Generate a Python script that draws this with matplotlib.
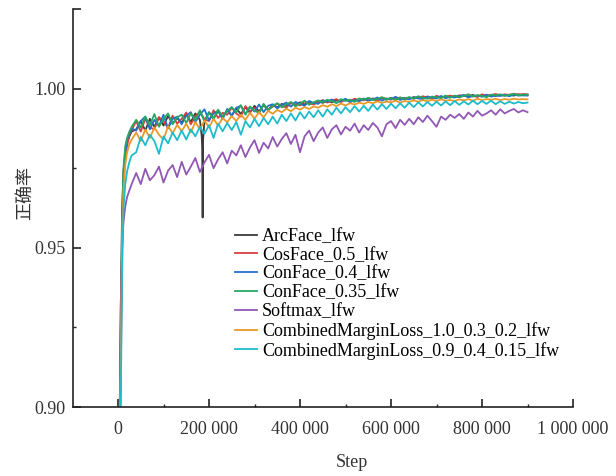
# LFW accuracy curves for the different loss functions
import numpy as np
import matplotlib
matplotlib.use('Agg')
import matplotlib.pyplot as plt

plt.rcParams['font.family'] = ['Liberation Serif', 'Noto Sans CJK SC']

# evaluation steps
early_steps = [3000, 6000, 9000, 12000, 16000, 20000, 25000, 30000]
main_steps = list(range(40000, 900001, 10000))
steps = early_steps + main_steps

arcface = [0.890, 0.930, 0.962, 0.974, 0.980, 0.983, 0.985, 0.9865,
           0.9872, 0.9898, 0.9868, 0.9905, 0.9880, 0.9910, 0.9884, 0.9914, 0.9890, 0.9908,
           0.9892, 0.9920, 0.9895, 0.9922, 0.9902, 0.9898, 0.9926, 0.9906, 0.9930, 0.9910,
           0.9932, 0.9915, 0.9938, 0.9920, 0.9942, 0.9924, 0.9946, 0.9928, 0.9948, 0.9932,
           0.9949, 0.9941, 0.9952, 0.9945, 0.9955, 0.9948, 0.9957, 0.9950, 0.9959, 0.9953,
           0.9961, 0.9955, 0.9963, 0.9957, 0.9964, 0.9959, 0.9966, 0.9960, 0.9967, 0.9962,
           0.9968, 0.9962, 0.9969, 0.9964, 0.9970, 0.9965, 0.9971, 0.9966, 0.9972, 0.9967,
           0.9972, 0.9968, 0.9974, 0.9969, 0.9975, 0.9970, 0.9976, 0.9971, 0.9976, 0.9972,
           0.9977, 0.9973, 0.9978, 0.9974, 0.9980, 0.9975, 0.9979, 0.9976, 0.9980, 0.9977,
           0.9980, 0.9978, 0.9981, 0.9978, 0.9982, 0.9979, 0.9980]
# the single bad evaluation of ArcFace near 186k
arc_dip_steps = [184000, 185000, 186000, 187000]
arc_dip_vals = [0.9850, 0.9815, 0.9595, 0.9840]

cosface = [0.888, 0.905, 0.955, 0.972, 0.979, 0.982, 0.9855, 0.987,
           0.9898, 0.9865, 0.9905, 0.9878, 0.9872, 0.9910, 0.9898, 0.9876, 0.9915, 0.9890,
           0.9905, 0.9925, 0.9888, 0.9912, 0.9928, 0.9904, 0.9898, 0.9932, 0.9908, 0.9924,
           0.9918, 0.9940, 0.9922, 0.9912, 0.9945, 0.9928, 0.9940, 0.9922, 0.9950, 0.9934,
           0.9943, 0.9953, 0.9946, 0.9940, 0.9956, 0.9951, 0.9947, 0.9960, 0.9954, 0.9950,
           0.9958, 0.9964, 0.9956, 0.9962, 0.9967, 0.9958, 0.9965, 0.9961, 0.9968, 0.9964,
           0.9963, 0.9970, 0.9967, 0.9961, 0.9972, 0.9968, 0.9965, 0.9973, 0.9969, 0.9971,
           0.9967, 0.9974, 0.9970, 0.9976, 0.9971, 0.9968, 0.9977, 0.9973, 0.9975, 0.9978,
           0.9974, 0.9979, 0.9976, 0.9981, 0.9977, 0.9974, 0.9982, 0.9978, 0.9980, 0.9983,
           0.9979, 0.9982, 0.9980, 0.9984, 0.9981, 0.9983, 0.9982]

conface_04 = [0.890, 0.920, 0.950, 0.970, 0.980, 0.984, 0.986, 0.9875,
              0.9868, 0.9898, 0.9912, 0.9872, 0.9902, 0.9882, 0.9918, 0.9875, 0.9905, 0.9912,
              0.9888, 0.9915, 0.9926, 0.9895, 0.9918, 0.9935, 0.9900, 0.9922, 0.9930, 0.9904,
              0.9936, 0.9915, 0.9940, 0.9946, 0.9920, 0.9942, 0.9928, 0.9950, 0.9926, 0.9946,
              0.9951, 0.9938, 0.9949, 0.9956, 0.9943, 0.9958, 0.9952, 0.9946, 0.9961, 0.9955,
              0.9952, 0.9963, 0.9959, 0.9966, 0.9955, 0.9962, 0.9968, 0.9957, 0.9964, 0.9960,
              0.9969, 0.9963, 0.9966, 0.9972, 0.9962, 0.9969, 0.9967, 0.9974, 0.9964, 0.9970,
              0.9966, 0.9973, 0.9969, 0.9967, 0.9975, 0.9972, 0.9969, 0.9977, 0.9970, 0.9974,
              0.9972, 0.9977, 0.9980, 0.9973, 0.9976, 0.9979, 0.9974, 0.9981, 0.9975, 0.9978,
              0.9977, 0.9980, 0.9976, 0.9981, 0.9978, 0.9979, 0.9978]

conface_035 = [0.892, 0.922, 0.958, 0.975, 0.982, 0.9845, 0.9865, 0.988,
               0.9902, 0.9878, 0.9912, 0.9885, 0.9920, 0.9880, 0.9905, 0.9922, 0.9888, 0.9910,
               0.9918, 0.9892, 0.9922, 0.9900, 0.9932, 0.9896, 0.9924, 0.9905, 0.9934, 0.9912,
               0.9930, 0.9942, 0.9925, 0.9948, 0.9918, 0.9944, 0.9930, 0.9924, 0.9952, 0.9932,
               0.9946, 0.9954, 0.9941, 0.9950, 0.9958, 0.9944, 0.9953, 0.9962, 0.9949, 0.9957,
               0.9963, 0.9957, 0.9965, 0.9960, 0.9955, 0.9967, 0.9961, 0.9965, 0.9958, 0.9969,
               0.9965, 0.9971, 0.9964, 0.9968, 0.9973, 0.9966, 0.9970, 0.9964, 0.9972, 0.9968,
               0.9973, 0.9969, 0.9976, 0.9971, 0.9968, 0.9975, 0.9973, 0.9970, 0.9978, 0.9972,
               0.9978, 0.9974, 0.9977, 0.9982, 0.9975, 0.9979, 0.9977, 0.9973, 0.9981, 0.9979,
               0.9982, 0.9978, 0.9980, 0.9983, 0.9979, 0.9981, 0.9981]

softmax = [0.885, 0.932, 0.950, 0.958, 0.963, 0.966, 0.968, 0.970,
           0.9735, 0.9700, 0.9748, 0.9712, 0.9728, 0.9755, 0.9705, 0.9742, 0.9760, 0.9722,
           0.9770, 0.9730, 0.9755, 0.9782, 0.9738, 0.9768, 0.9792, 0.9750, 0.9778, 0.9800,
           0.9765, 0.9805, 0.9790, 0.9822, 0.9785, 0.9815, 0.9838, 0.9798, 0.9830, 0.9812,
           0.9848, 0.9818, 0.9842, 0.9860, 0.9826, 0.9855, 0.9800, 0.9850, 0.9868, 0.9835,
           0.9862, 0.9878, 0.9845, 0.9872, 0.9885, 0.9856, 0.9880, 0.9868, 0.9890, 0.9862,
           0.9885, 0.9870, 0.9892, 0.9878, 0.9850, 0.9888, 0.9898, 0.9876, 0.9902, 0.9886,
           0.9905, 0.9888, 0.9910, 0.9895, 0.9915, 0.9898, 0.9880, 0.9912, 0.9902, 0.9918,
           0.9908, 0.9920, 0.9905, 0.9925, 0.9912, 0.9930, 0.9915, 0.9922, 0.9932, 0.9918,
           0.9935, 0.9922, 0.9930, 0.9936, 0.9925, 0.9932, 0.9926]

cml_1 = [0.889, 0.911, 0.952, 0.968, 0.976, 0.980, 0.9825, 0.984,
         0.9862, 0.9835, 0.9872, 0.9845, 0.9878, 0.9855, 0.9840, 0.9882, 0.9860, 0.9886,
         0.9866, 0.9890, 0.9862, 0.9895, 0.9872, 0.9900, 0.9878, 0.9905, 0.9884, 0.9908,
         0.9894, 0.9914, 0.9898, 0.9918, 0.9902, 0.9924, 0.9906, 0.9926, 0.9910, 0.9930,
         0.9921, 0.9933, 0.9926, 0.9937, 0.9929, 0.9940, 0.9934, 0.9942, 0.9936, 0.9944,
         0.9940, 0.9948, 0.9943, 0.9951, 0.9945, 0.9953, 0.9947, 0.9954, 0.9950, 0.9956,
         0.9952, 0.9958, 0.9954, 0.9960, 0.9955, 0.9959, 0.9957, 0.9962, 0.9956, 0.9961,
         0.9958, 0.9963, 0.9959, 0.9964, 0.9960, 0.9965, 0.9961, 0.9966, 0.9962, 0.9964,
         0.9961, 0.9966, 0.9963, 0.9967, 0.9962, 0.9968, 0.9964, 0.9967, 0.9965, 0.9968,
         0.9964, 0.9967, 0.9965, 0.9968, 0.9966, 0.9967, 0.9966]

cml_2 = [0.880, 0.900, 0.942, 0.962, 0.970, 0.974, 0.977, 0.979,
         0.9800, 0.9848, 0.9822, 0.9855, 0.9835, 0.9795, 0.9850, 0.9828, 0.9862, 0.9838,
         0.9868, 0.9840, 0.9872, 0.9850, 0.9880, 0.9858, 0.9885, 0.9845, 0.9890, 0.9866,
         0.9892, 0.9870, 0.9895, 0.9855, 0.9898, 0.9878, 0.9905, 0.9882, 0.9908, 0.9888,
         0.9912, 0.9890, 0.9918, 0.9898, 0.9922, 0.9900, 0.9926, 0.9906, 0.9928, 0.9910,
         0.9932, 0.9912, 0.9935, 0.9918, 0.9940, 0.9922, 0.9942, 0.9926, 0.9945, 0.9928,
         0.9946, 0.9930, 0.9950, 0.9934, 0.9951, 0.9936, 0.9953, 0.9938, 0.9954, 0.9940,
         0.9956, 0.9942, 0.9957, 0.9944, 0.9958, 0.9946, 0.9959, 0.9947, 0.9960, 0.9948,
         0.9961, 0.9949, 0.9960, 0.9950, 0.9962, 0.9951, 0.9961, 0.9952, 0.9962, 0.9951,
         0.9960, 0.9952, 0.9959, 0.9953, 0.9958, 0.9954, 0.9956]

labels = ['ArcFace_lfw', 'CosFace_0.5_lfw', 'ConFace_0.4_lfw', 'ConFace_0.35_lfw',
          'Softmax_lfw', 'CombinedMarginLoss_1.0_0.3_0.2_lfw',
          'CombinedMarginLoss_0.9_0.4_0.15_lfw']
colors = ['#3a3a3a', '#d8403f', '#2470cc', '#25a862', '#9157b5', '#e89a28', '#1dbccb']

xticks = [0, 200000, 400000, 600000, 800000, 1000000]
xticklabels = ['0', '200 000', '400 000', '600 000', '800 000', '1 000 000']

# merge the dip into the ArcFace curve
arc_x = np.array(steps + arc_dip_steps)
arc_y = np.array(arcface + arc_dip_vals)
order = np.argsort(arc_x)
arc_x, arc_y = arc_x[order], arc_y[order]

series = [(arc_x, arc_y), (steps, cosface), (steps, conface_04), (steps, conface_035),
          (steps, softmax), (steps, cml_1), (steps, cml_2)]

fig = plt.figure(figsize=(6.16, 4.76), dpi=100)
ax = fig.add_axes([72.5 / 616, 1 - 407 / 476, 500.5 / 616, 398 / 476])

for (x, y), lab, c in zip(series, labels, colors):
    ax.plot(x, y, color=c, lw=1.3, label=lab)

ax.set_xlim(-100000, 1000000)
ax.set_ylim(0.90, 1.025)
ax.set_xticks(xticks)
ax.set_xticklabels(xticklabels)
ax.set_xticks([100000, 300000, 500000, 700000, 900000], minor=True)
ax.set_yticks([0.90, 0.95, 1.00, 1.025])
ax.set_yticklabels(['0.90', '0.95', '1.00', ''])
ax.set_yticks([0.925, 0.975], minor=True)

for s in ['top', 'right']:
    ax.spines[s].set_visible(False)
for s in ['left', 'bottom']:
    ax.spines[s].set_linewidth(1.2)
    ax.spines[s].set_color('#222222')

ax.tick_params(which='major', direction='in', length=6, width=1.2, color='#222222',
               labelsize=13, labelcolor='#333333')
ax.tick_params(which='minor', direction='in', length=2.5, width=1.0, color='#222222')
ax.tick_params(axis='x', which='major', pad=10)
ax.tick_params(axis='y', which='major', pad=5)

ax.set_xlabel('Step', fontsize=13, color='#333333')
ax.xaxis.set_label_coords(0.558, -0.118)
ax.set_ylabel('正确率', fontsize=13, color='#333333')
ax.yaxis.set_label_coords(-0.078, 0.538)

ax.legend(loc='upper left', bbox_to_anchor=(235 / 616, 1 - 228 / 476),
          bbox_transform=fig.transFigure, frameon=False, fontsize=13,
          handlelength=1.2, handletextpad=0.3, labelspacing=0.1,
          borderpad=0, borderaxespad=0)

fig.savefig('out.png', dpi=100)
